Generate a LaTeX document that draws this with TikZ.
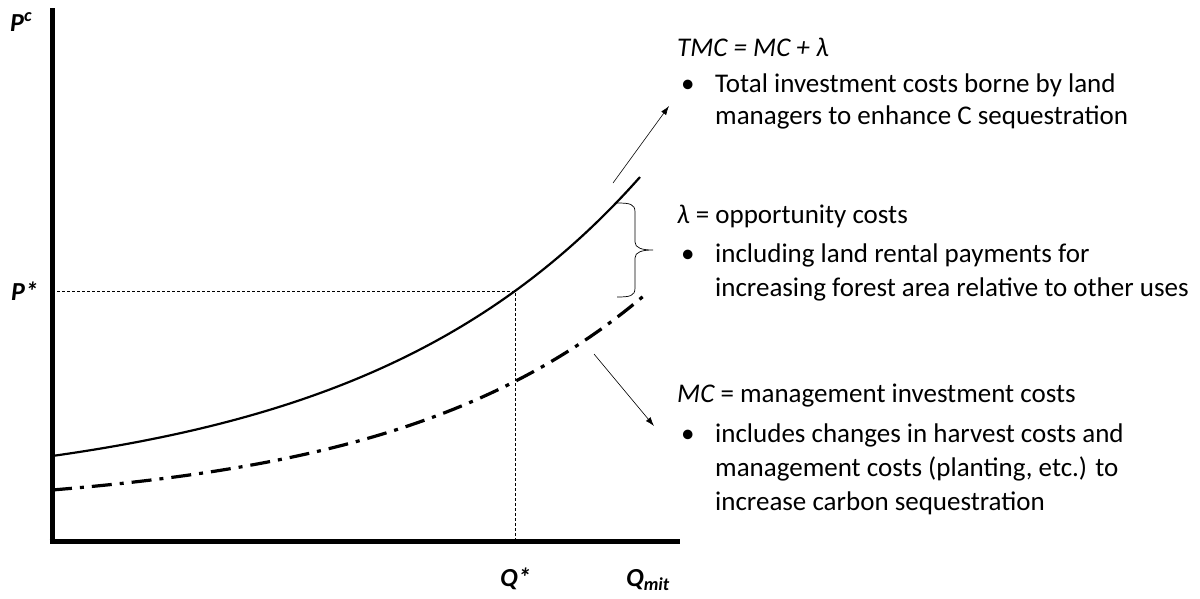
\documentclass[tikz,border=0pt]{standalone}
\usepackage{fontspec}
\setmainfont{Carlito}
\usetikzlibrary{arrows.meta}
\begin{document}
\begin{tikzpicture}[x=1pt,y=-1pt,
  txt/.style={anchor=base west,inner sep=0pt,font=\fontsize{27}{31}\selectfont},
  lbl/.style={inner sep=0pt,font=\fontsize{26}{30}\selectfont\bfseries\itshape},
  axis/.style={line width=5pt},
  guide/.style={line width=0.9pt,dash pattern=on 3pt off 2pt},
  pointer/.style={line width=0.6pt,-{Latex[length=9pt,width=6pt]}}]
\useasboundingbox (0,0) rectangle (1200,598);
% axes
\coordinate (o) at (52,541);
\coordinate (ytop) at (52,8);
\coordinate (xend) at (680,541);
\draw[axis] (ytop) -- (52,543.5);
\draw[axis] (49.5,541) -- (xend);
% guides
\coordinate (pstar) at (52,291);
\coordinate (eq) at (515,291);
\coordinate (qstar) at (515,541);
\draw[guide] (pstar) -- (eq) -- (qstar);
% TMC curve
\draw[line width=2.2pt] plot[domain=52:640,samples=120,smooth] (\x,{495.76-39.76*exp(0.00354*(\x-52))});
% MC curve
\draw[line width=3.2pt,dash pattern=on 20pt off 8pt on 4pt off 8pt] plot[domain=52:643,samples=120,smooth] (\x,{510.94-20.94*exp(0.003932*(\x-52))});
% brace
\coordinate (bt) at (653,250);
\draw[line width=0.7pt] (617,203) .. controls (630,203) and (635,204) .. (635,212) -- (635,242) .. controls (635,248) and (642,250) .. (bt)
  .. controls (642,250) and (635,252) .. (635,258) -- (635,288) .. controls (635,296) and (630,297) .. (617,297);
% arrows
\coordinate (a1s) at (613,183);
\coordinate (a1e) at (669,106);
\draw[pointer] (a1s) -- (a1e);
\coordinate (a2s) at (594,354);
\coordinate (a2e) at (654,426);
\draw[pointer] (a2s) -- (a2e);
% labels
\node[lbl,anchor=base west] (pc) at (10,31) {P\textsuperscript{c}};
\node[lbl,anchor=base west] (ps) at (11,300) {P*};
\node[lbl,anchor=base west] (qs) at (500,586) {Q*};
\node[lbl,anchor=base west] (qm) at (626,586) {Q\textsubscript{mit}};
% TMC block
\node[txt] (t1) at (677,56) {\itshape TMC = MC + λ};
\node[txt] (t2b) at (681,92) {•};
\node[txt] (t2) at (715,92) {Total investment costs borne by land};
\node[txt] (t3) at (715,124) {managers to enhance C sequestration};
% lambda block
\node[txt] (l1) at (677,223) {\itshape λ\upshape{} = opportunity costs};
\node[txt] (l2b) at (681,262) {•};
\node[txt] (l2) at (715,262) {including land rental payments for};
\node[txt] (l3) at (715,296) {increasing forest area relative to other uses};
% MC block
\node[txt] (m1) at (677,402) {\itshape MC\upshape{} = management investment costs};
\node[txt] (m2b) at (681,442) {•};
\node[txt] (m2) at (715,442) {includes changes in harvest costs and};
\node[txt] (m3) at (715,476) {management costs (planting, etc.) to};
\node[txt] (m4) at (715,510) {increase carbon sequestration};
\end{tikzpicture}
\end{document}
